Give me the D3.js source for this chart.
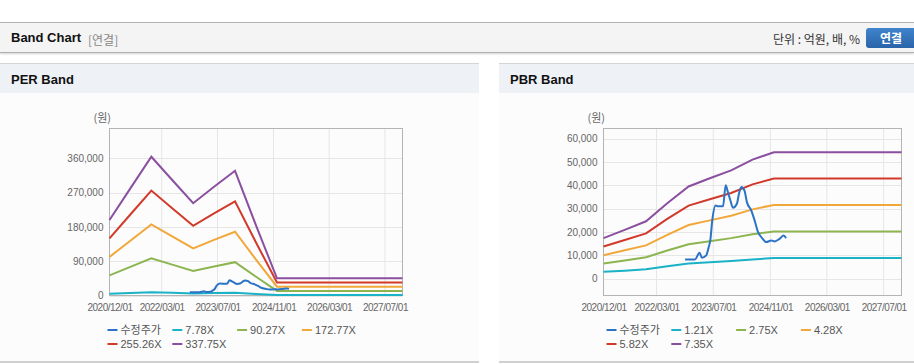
<!DOCTYPE html>
<html>
<head>
<meta charset="utf-8">
<script src="https://cdn.jsdelivr.net/npm/d3@7"></script>
<style>
  body { margin: 0; width: 914px; height: 364px; background: #fff; position: relative; overflow: hidden;
         font-family: "Liberation Sans", Arial, "Noto Sans CJK KR", sans-serif; }
  .topbar { position: absolute; left: 0; top: 22px; width: 914px; height: 29px; background: #f4f4f4;
            border-top: 1px solid #b4b4b4; border-bottom: 1px solid #b0b0b0; box-shadow: 0 1px 2px rgba(0,0,0,0.18); }
  .topbar .title { position: absolute; left: 11px; top: 7px; font-size: 13px; font-weight: bold; color: #111; }
  .topbar .sub { position: absolute; left: 88px; top: 8px; font-size: 12px; color: #888; font-family: "Noto Sans CJK KR", sans-serif; }
  .topbar .unit { position: absolute; right: 54px; top: 7px; font-size: 12px; color: #333; font-family: "Noto Sans CJK KR", sans-serif; }
  .topbar .btn { position: absolute; left: 866px; top: 5px; width: 50px; height: 20px; border-radius: 3px;
                 background: linear-gradient(#3f84cc, #2a64a9); color: #fff; font-size: 12px; font-weight: bold;
                 text-align: center; line-height: 20px; font-family: "Noto Sans CJK KR", sans-serif; }
  .panel { position: absolute; top: 63px; height: 297px; background: #fcfcfc; border-top: 1px solid #d4d4d4;
           border-bottom: 2px solid #d0d0d0; }
  .panel .head { height: 29px; background: #eef2f7; }
  .panel .head span { position: absolute; left: 11px; top: 8px; font-size: 13px; font-weight: bold; color: #111; }
  svg { position: absolute; left: 0; top: 0; }
</style>
</head>
<body>
<div class="topbar">
  <div class="title">Band Chart</div>
  <div class="sub">[연결]</div>
  <div class="unit">단위 : 억원, 배, %</div>
  <div class="btn">연결</div>
</div>
<div class="panel" style="left:0;width:479px"><div class="head"><span>PER Band</span></div></div>
<div class="panel" style="left:499px;width:415px"><div class="head"><span>PBR Band</span></div></div>
<svg id="chart" width="914" height="364"></svg>
<script>
// band dates (shared by both charts)
const bandDates = ["2020-12-01", "2021-06-01", "2021-12-01", "2022-06-01", "2022-12-01",
                   "2023-06-01", "2023-12-01", "2024-06-01", "2024-12-01", "2027-12-01"];

// 수정주가
const priceDates = ["2022-11-01", "2023-01-24", "2023-03-05", "2023-03-25", "2023-05-01", "2023-05-21",
  "2023-06-05", "2023-06-22", "2023-07-20", "2023-08-10", "2023-09-22", "2023-10-15", "2023-11-03",
  "2023-11-24", "2023-12-16", "2024-01-19", "2024-02-06", "2024-02-27", "2024-03-25", "2024-04-14",
  "2024-05-21", "2024-06-19", "2024-07-16", "2024-08-28", "2024-09-27", "2024-11-10", "2024-12-07",
  "2025-01-19", "2025-02-23", "2025-03-16"];
const priceValues = [8300, 8300, 11100, 9000, 10000, 13300, 16400, 25000, 31400, 31000, 31000, 40000, 37100,
  33600, 30400, 32100, 36400, 39300, 37600, 32800, 29300, 25000, 20300, 17100, 15700, 16400, 16000,
  17100, 18500, 17400];

// PER band
const perLabels = ["7.78X", "90.27X", "172.77X", "255.26X", "337.75X"];
const per1 = [4560, 6470, 8390, 6980, 5570, 6570, 7530, 4240, 1035, 1035];
const per2 = [52900, 75100, 97300, 81000, 64600, 76200, 87400, 49200, 12000, 12000];
const per3 = [101200, 143700, 186200, 155000, 123700, 145800, 167200, 94200, 23000, 23000];
const per4 = [149600, 212400, 275200, 229000, 182800, 215400, 247100, 139100, 34000, 34000];
const per5 = [198000, 281000, 364000, 303000, 242000, 285000, 327000, 184000, 45000, 45000];
const perTicks = [0, 90000, 180000, 270000, 360000];

// PBR band
const pbrLabels = ["1.21X", "2.75X", "4.28X", "5.82X", "7.35X"];
const pbr1 = [3000, 3450, 4040, 5320, 6510, 7080, 7640, 8300, 8900, 8900];
const pbr2 = [6500, 7800, 9200, 12100, 14800, 16100, 17400, 19100, 20200, 20200];
const pbr3 = [10100, 12200, 14300, 18800, 23000, 25000, 27000, 29700, 31600, 31600];
const pbr4 = [13800, 16600, 19400, 25600, 31300, 34000, 36700, 40400, 42900, 42900];
const pbr5 = [17400, 20900, 24600, 32300, 39500, 43000, 46400, 51000, 54100, 54100];
const pbrTicks = [0, 10000, 20000, 30000, 40000, 50000, 60000];

const xTicks = ["2020-12-01", "2022-03-01", "2023-07-01", "2024-11-01", "2026-03-01", "2027-07-01"];
const colors = ["#2b73c5", "#19b2c6", "#8cb550", "#f2a73a", "#d13a2b", "#8b4fa0"];

const parse = d3.timeParse("%Y-%m-%d");
const fmtX = d3.timeFormat("%Y/%m/%d");
const svg = d3.select("#chart");

function drawChart(opt) {
  const x = d3.scaleTime()
    .domain([parse("2020-12-01"), parse("2027-12-01")])
    .range([opt.left, opt.right]);
  const y = d3.scaleLinear().domain(opt.yDomain).range([opt.bottom, opt.top]);
  const g = svg.append("g");

  // grid
  g.append("g").selectAll("line").data(xTicks.slice(1)).join("line")
    .attr("x1", d => x(parse(d))).attr("x2", d => x(parse(d)))
    .attr("y1", opt.top).attr("y2", opt.bottom)
    .attr("stroke", "#e6e6e6");
  g.append("g").selectAll("line").data(opt.yTicks).join("line")
    .attr("x1", opt.left).attr("x2", opt.right)
    .attr("y1", d => Math.round(y(d)) + 0.5).attr("y2", d => Math.round(y(d)) + 0.5)
    .attr("stroke", "#e6e6e6");
  g.append("rect")
    .attr("x", opt.left).attr("y", opt.top)
    .attr("width", opt.right - opt.left).attr("height", opt.bottom - opt.top)
    .attr("fill", "none").attr("stroke", "#b4b4b4");

  // axes
  const ax = g.append("g")
    .attr("transform", "translate(0," + opt.bottom + ")")
    .call(d3.axisBottom(x).tickValues(xTicks.map(parse)).tickFormat(fmtX).tickSize(0).tickPadding(8));
  ax.select(".domain").remove();
  ax.selectAll("text").attr("fill", "#666").attr("font-size", 10).attr("letter-spacing", -0.5)
    .attr("font-family", "Liberation Sans, Arial");
  const ay = g.append("g")
    .attr("transform", "translate(" + opt.left + ",0)")
    .call(d3.axisLeft(y).tickValues(opt.yTicks).tickFormat(d3.format(",")).tickSize(0).tickPadding(6));
  ay.select(".domain").remove();
  ay.selectAll("text").attr("fill", "#666").attr("font-size", 10)
    .attr("font-family", "Liberation Sans, Arial");

  g.append("text").attr("x", opt.left - 16).attr("y", 122)
    .attr("font-size", 11).attr("fill", "#666").attr("font-family", "Noto Sans CJK KR")
    .text("(원)");

  // bands
  const line = d3.line().x(d => x(d[0])).y(d => y(d[1]));
  opt.bands.forEach((vals, i) => {
    g.append("path")
      .datum(bandDates.map((d, j) => [parse(d), vals[j]]))
      .attr("fill", "none").attr("stroke", colors[i + 1]).attr("stroke-width", 2)
      .attr("d", line);
  });
  g.append("path")
    .datum(priceDates.map((d, j) => [parse(d), priceValues[j]]))
    .attr("fill", "none").attr("stroke", colors[0]).attr("stroke-width", 2)
    .attr("d", line.curve(d3.curveMonotoneX));

  // legend
  const names = ["수정주가"].concat(opt.labels);
  const lg = g.append("g").selectAll("g").data(names).join("g")
    .attr("transform", (d, i) => "translate(" + (opt.legendX + (i % 4) * 64.8) + "," + (330 + Math.floor(i / 4) * 14) + ")");
  lg.append("line").attr("x1", 0).attr("x2", 10).attr("y1", 0).attr("y2", 0)
    .attr("stroke", (d, i) => colors[i]).attr("stroke-width", 2);
  lg.append("text").attr("x", 13).attr("y", 4)
    .attr("font-size", 11).attr("fill", "#555")
    .attr("font-family", "Liberation Sans, Arial, Noto Sans CJK KR")
    .text(d => d);
}

drawChart({
  left: 109.5, right: 402.5, top: 128.5, bottom: 295.5,
  yDomain: [0, 438000], yTicks: perTicks,
  bands: [per1, per2, per3, per4, per5], labels: perLabels, legendX: 107.5
});
drawChart({
  left: 603.5, right: 901.5, top: 128.5, bottom: 295.5,
  yDomain: [-7150, 64300], yTicks: pbrTicks,
  bands: [pbr1, pbr2, pbr3, pbr4, pbr5], labels: pbrLabels, legendX: 606.5
});
</script>
</body>
</html>
